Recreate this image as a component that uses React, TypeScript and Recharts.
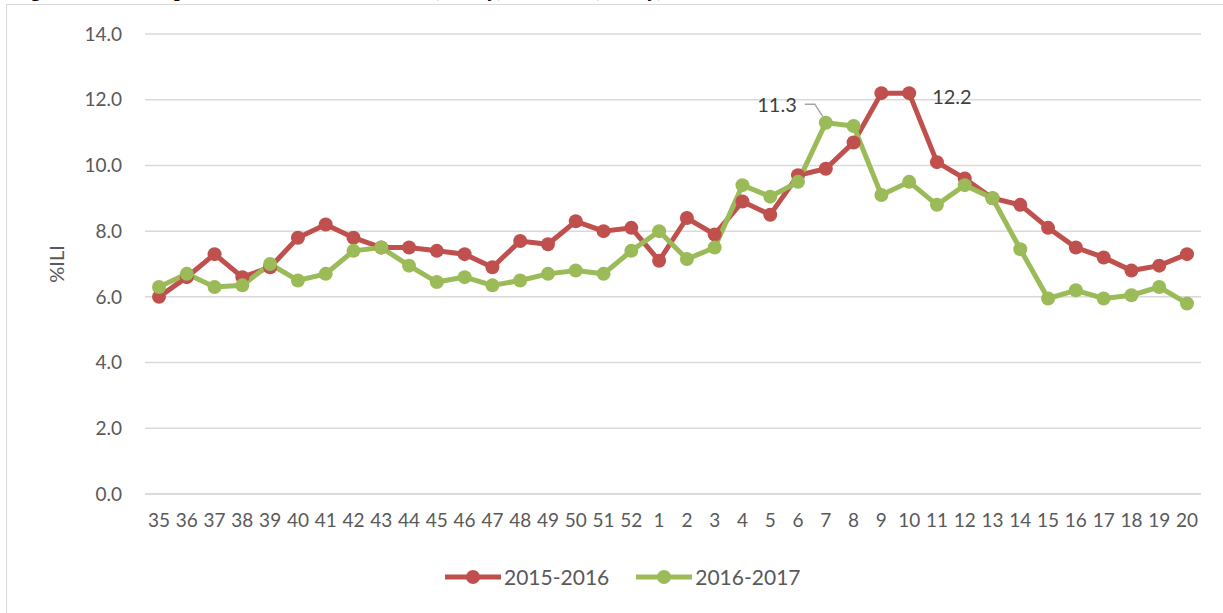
import React from 'react'
import { CartesianGrid, LabelList, Line, LineChart, XAxis, YAxis } from 'recharts'

const weeks = [
  '35', '36', '37', '38', '39', '40', '41', '42', '43', '44', '45', '46', '47', '48', '49', '50', '51', '52',
  '1', '2', '3', '4', '5', '6', '7', '8', '9', '10', '11', '12', '13', '14', '15', '16', '17', '18', '19', '20',
]

const ili2015 = [
  6.0, 6.6, 7.3, 6.6, 6.9, 7.8, 8.2, 7.8, 7.5, 7.5, 7.4, 7.3, 6.9, 7.7, 7.6, 8.3, 8.0, 8.1,
  7.1, 8.4, 7.9, 8.9, 8.5, 9.7, 9.9, 10.7, 12.2, 12.2, 10.1, 9.6, 9.0, 8.8, 8.1, 7.5, 7.2, 6.8, 6.95, 7.3,
]

const ili2016 = [
  6.3, 6.7, 6.3, 6.35, 7.0, 6.5, 6.7, 7.4, 7.5, 6.95, 6.45, 6.6, 6.35, 6.5, 6.7, 6.8, 6.7, 7.4,
  8.0, 7.15, 7.5, 9.4, 9.05, 9.5, 11.3, 11.2, 9.1, 9.5, 8.8, 9.4, 9.0, 7.45, 5.95, 6.2, 5.95, 6.05, 6.3, 5.8,
]

const yTicks = [0, 2, 4, 6, 8, 10, 12, 14]
const seriesNames = ['2015-2016', '2016-2017']
// weeks that carry a data label in the original
const labelWeeks2015 = ['10']
const labelWeeks2016 = ['7']

const RED = '#C0504D'
const GREEN = '#9BBB59'
const AXIS_TEXT = '#595959'
const FONT = 'Lato, "Open Sans", sans-serif'

const data = weeks.map((week, i) => ({ week, s2015: ili2015[i], s2016: ili2016[i] }))

const RightLabel = (props: any) => {
  const { x, y, value, index } = props
  if (!labelWeeks2015.includes(weeks[index])) return null
  return (
    <text x={x + 23} y={y + 3} fill="#404040" fontSize={20} fontFamily={FONT} dominantBaseline="central">
      {Number(value).toFixed(1)}
    </text>
  )
}

const LeaderLabel = (props: any) => {
  const { x, y, value, index } = props
  if (!labelWeeks2016.includes(weeks[index])) return null
  return (
    <g>
      <polyline
        points={`${x - 21},${y - 18.5} ${x - 11},${y - 18.5} ${x - 3},${y - 6}`}
        fill="none"
        stroke="#a6a6a6"
        strokeWidth={1.5}
      />
      <text
        x={x - 29}
        y={y - 18.5}
        fill="#404040"
        fontSize={20}
        fontFamily={FONT}
        textAnchor="end"
        dominantBaseline="central"
      >
        {Number(value).toFixed(1)}
      </text>
    </g>
  )
}

const LegendIcon = ({ color }: { color: string }) => (
  <svg width={56} height={16} style={{ display: 'block' }}>
    <line x1={0} y1={8} x2={56} y2={8} stroke={color} strokeWidth={5} />
    <circle cx={28} cy={8} r={7} fill={color} />
  </svg>
)

export default function App() {
  const colors = [RED, GREEN]
  return (
    <div
      style={{
        position: 'absolute',
        left: 0,
        top: 0,
        width: 1223,
        height: 613,
        overflow: 'hidden',
        background: '#fff',
        fontFamily: FONT,
      }}
    >
      {/* caption of the page above, cut by the top edge as in the source */}
      <div
        style={{
          position: 'absolute',
          top: -21,
          left: 0,
          width: 1223,
          height: 40,
          fontFamily: '"Liberation Serif", "Times New Roman", serif',
          fontWeight: 'bold',
          fontSize: 20,
          lineHeight: '20px',
          color: '#000',
          whiteSpace: 'nowrap',
        }}
      >
        <span style={{ position: 'absolute', left: 13 }}>Figure 14.</span>
        <span style={{ position: 'absolute', left: 133 }}>Comparison of ILI in the State</span>
        <span style={{ position: 'absolute', left: 432 }}>(weekly), 2015-16</span>
        <span style={{ position: 'absolute', left: 592 }}>(weekly),</span>
      </div>

      {/* chart frame */}
      <div
        style={{
          position: 'absolute',
          left: 6,
          top: 4,
          width: 1240,
          height: 640,
          border: '1.5px solid #d9d9d9',
          boxSizing: 'border-box',
        }}
      />

      <div style={{ position: 'absolute', left: 0, top: 0 }}>
        <LineChart width={1223} height={613} data={data} margin={{ top: 34, right: 22, left: 65, bottom: 79 }}>
          <CartesianGrid vertical={false} stroke="#d9d9d9" strokeWidth={1.5} />
          <XAxis
            dataKey="week"
            interval={0}
            height={40}
            padding={{ left: 14, right: 14 }}
            axisLine={{ stroke: '#d9d9d9', strokeWidth: 1.5 }}
            tickLine={false}
            tickMargin={14}
            tick={{ fill: AXIS_TEXT, fontSize: 19, fontFamily: FONT }}
          />
          <YAxis
            width={80}
            domain={[0, 14]}
            ticks={yTicks}
            axisLine={false}
            tickLine={false}
            tickMargin={17}
            tickFormatter={(v: number) => v.toFixed(1)}
            tick={{ fill: AXIS_TEXT, fontSize: 19, fontFamily: FONT }}
            label={{
              value: '%ILI',
              angle: -90,
              position: 'center',
              dx: -48,
              fill: AXIS_TEXT,
              fontSize: 20,
              fontFamily: FONT,
            }}
          />
          <Line
            type="linear"
            dataKey="s2015"
            name={seriesNames[0]}
            stroke={RED}
            strokeWidth={5}
            dot={{ r: 7, fill: RED, stroke: RED, strokeWidth: 0 }}
            activeDot={false}
            isAnimationActive={false}
          >
            <LabelList dataKey="s2015" content={RightLabel} />
          </Line>
          <Line
            type="linear"
            dataKey="s2016"
            name={seriesNames[1]}
            stroke={GREEN}
            strokeWidth={5}
            dot={{ r: 7, fill: GREEN, stroke: GREEN, strokeWidth: 0 }}
            activeDot={false}
            isAnimationActive={false}
          >
            <LabelList dataKey="s2016" content={LeaderLabel} />
          </Line>
        </LineChart>
      </div>

      {/* legend */}
      <div
        style={{
          position: 'absolute',
          left: 445,
          top: 564,
          height: 26,
          display: 'flex',
          alignItems: 'center',
          gap: 27,
        }}
      >
        {seriesNames.map((name, i) => (
          <div key={name} style={{ display: 'flex', alignItems: 'center', gap: 3 }}>
            <LegendIcon color={colors[i]} />
            <span style={{ fontSize: 21, color: AXIS_TEXT, lineHeight: '26px' }}>{name}</span>
          </div>
        ))}
      </div>
    </div>
  )
}
